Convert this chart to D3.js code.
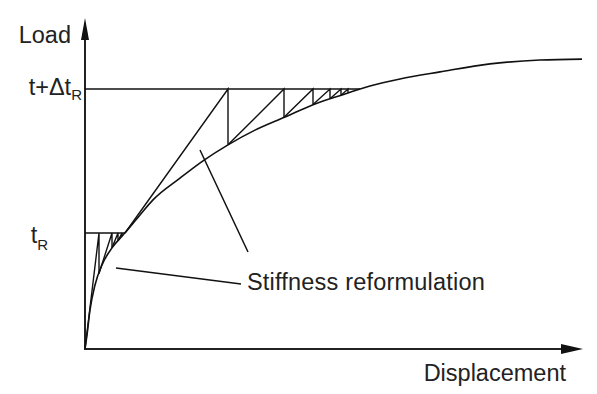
<!DOCTYPE html>
<html>
<head>
<meta charset="utf-8">
<script src="https://cdn.jsdelivr.net/npm/d3@7"></script>
<style>
  body { margin: 0; background: #fff; }
  svg text { font-family: "Liberation Sans", Arial, sans-serif; fill: #222; }
</style>
</head>
<body>
<div id="chart"></div>
<script>
// load-displacement curve (displacement, load)
var curveDisp = [0, 0.4, 1, 2, 3.4, 5.4, 8, 11, 13.6, 19, 23.6, 28.6, 34, 40, 46, 52, 57, 63, 71, 81, 91, 99.4];
var curveLoad = [0, 4.4, 12.2, 20, 26.3, 31.6, 36.3, 41.9, 46.6, 53.4, 58.8, 63.8, 68.4, 72.5, 76.6, 79.7, 82.2, 84.4, 86.6, 89.1, 90.3, 90.6];

// load levels
var levelLoads = [36.25, 81.25];
var levelConverged = [8, 55];

// iterations at each level (points where the vertical reaches the curve)
var lowStart = [0, 0];
var lowIterDisp = [2.8, 5.4, 6.6, 7.4];
var lowIterLoad = [23.6, 31.6, 33.8, 35.2];
var highStart = [8, 36.25];
var highIterDisp = [28.6, 39.8, 45.6, 49, 51.2, 52.6];
var highIterLoad = [63.8, 72.4, 76.4, 78.2, 79.3, 80.0];

// annotation leaders
var leaderA = [[6.2, 25.3], [31.2, 20.3]];
var leaderB = [[23, 62.2], [32.6, 30.3]];
var noteText = "Stiffness reformulation";
var notePos = [32.4, 18.4];

var width = 597, height = 394;
var fs = 23.5;
var svg = d3.select("#chart").append("svg")
  .attr("width", width)
  .attr("height", height);

var x = d3.scaleLinear().domain([0, 100]).range([85, 585]);
var y = d3.scaleLinear().domain([0, 100]).range([349, 29]);

var line = d3.line().x(d => x(d[0])).y(d => y(d[1]));

// axes
svg.append("line")
  .attr("x1", x(0)).attr("y1", y(0))
  .attr("x2", x(0)).attr("y2", y(100) + 8)
  .attr("stroke", "#222").attr("stroke-width", 2);
svg.append("line")
  .attr("x1", x(0) - 1).attr("y1", y(0))
  .attr("x2", x(98)).attr("y2", y(0))
  .attr("stroke", "#222").attr("stroke-width", 2);
// arrow heads
svg.append("path")
  .attr("d", "M" + x(0) + "," + (y(100) - 11) + "l4,22l-8,0z")
  .attr("fill", "#111");
svg.append("path")
  .attr("d", "M" + (x(100) - 2) + "," + y(0) + "l-22,-5l0,10z")
  .attr("fill", "#111");

// load curve
var curvePts = curveDisp.map((d, i) => [d, curveLoad[i]]);
svg.append("path")
  .datum(curvePts)
  .attr("fill", "none")
  .attr("stroke", "#111")
  .attr("stroke-width", 1.6)
  .attr("d", d3.line().x(d => x(d[0])).y(d => y(d[1])).curve(d3.curveMonotoneX));

// load level lines
levelLoads.forEach(function(L, k) {
  svg.append("line")
    .attr("x1", x(0)).attr("y1", y(L))
    .attr("x2", x(levelConverged[k])).attr("y2", y(L))
    .attr("stroke", "#111").attr("stroke-width", 1.6);
});

// iteration steps: diagonal up to the level, then vertical back to the curve
function drawIter(start, disp, load, level) {
  var prev = start;
  disp.forEach(function(d, i) {
    svg.append("path")
      .attr("d", line([prev, [d, level]]) + "L" + x(d) + "," + y(load[i]))
      .attr("fill", "none")
      .attr("stroke", "#111")
      .attr("stroke-width", 1.4);
    prev = [d, load[i]];
  });
}
drawIter(lowStart, lowIterDisp, lowIterLoad, levelLoads[0]);
drawIter(highStart, highIterDisp, highIterLoad, levelLoads[1]);

// leaders and note
[leaderA, leaderB].forEach(function(l) {
  svg.append("path")
    .attr("d", line(l))
    .attr("stroke", "#111")
    .attr("stroke-width", 1.5);
});
svg.append("text")
  .attr("x", x(notePos[0])).attr("y", y(notePos[1]))
  .attr("font-size", fs)
  .attr("letter-spacing", 0.2)
  .text(noteText);

// axis labels
svg.append("text")
  .attr("x", x(0) - 14).attr("y", y(100) + 14)
  .attr("text-anchor", "end")
  .attr("font-size", fs)
  .text("Load");
svg.append("text")
  .attr("x", x(96.2)).attr("y", y(0) + 32)
  .attr("text-anchor", "end")
  .attr("font-size", fs)
  .text("Displacement");

// level labels
var lab1 = svg.append("text")
  .attr("x", x(0) - 3).attr("y", y(levelLoads[1]) + 6)
  .attr("text-anchor", "end")
  .attr("font-size", fs);
lab1.append("tspan").text("t+\u0394t");
lab1.append("tspan").attr("dy", 5).attr("font-size", 15).text("R");

var lab0 = svg.append("text")
  .attr("x", x(0) - 37).attr("y", y(levelLoads[0]) + 10)
  .attr("text-anchor", "end")
  .attr("font-size", fs);
lab0.append("tspan").text("t");
lab0.append("tspan").attr("dy", 7).attr("font-size", 15).text("R");
</script>
</body>
</html>
